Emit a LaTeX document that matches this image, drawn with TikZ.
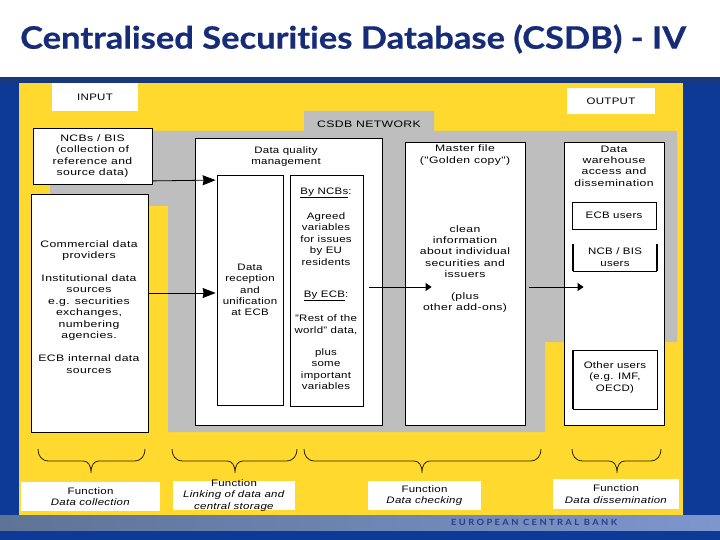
\documentclass[tikz,border=0pt]{standalone}
\usepackage{fontspec}
\setmainfont{Liberation Sans}[FakeStretch=1.22,LetterSpace=3]
\newfontfamily\widefont{Liberation Sans}[FakeStretch=1.3,LetterSpace=4]
\newfontfamily\titlefont{Lato}[FakeBold=0.6,FakeStretch=1.12,Ligatures=NoCommon]
\newfontfamily\bankfont{Lato}[LetterSpace=28,FakeStretch=1.1]
\usetikzlibrary{fit,arrows.meta,calc}
\definecolor{slideBlue}{RGB}{12,58,150}
\definecolor{stripBlue}{RGB}{24,58,125}
\definecolor{panelYellow}{RGB}{255,217,46}
\definecolor{netGrey}{RGB}{190,190,190}
\definecolor{titleNavy}{RGB}{22,44,120}
\definecolor{bankNavy}{RGB}{40,62,135}
\definecolor{bandLeft}{RGB}{95,115,150}
\definecolor{bandRight}{RGB}{125,150,205}
\tikzset{
  bx/.style={draw=black,fill=white,line width=0.8pt,inner sep=0pt},
  plainbx/.style={fill=white,inner sep=0pt},
  txt/.style={align=center,inner sep=0pt,font=\fontsize{9.4}{11.4}\selectfont},
  wtxt/.style={align=center,inner sep=0pt,font=\widefont\fontsize{9.4}{11.4}\selectfont},
  arr/.style={draw=black,line width=0.8pt,-{Stealth[length=13pt,width=10pt,inset=1pt]}},
  arrs/.style={draw=black,line width=0.8pt,-{Triangle[length=6pt,width=8pt]}},
  brc/.style={draw=black!85!panelYellow,line width=0.8pt},
  thk/.style={draw=black,line width=1.8pt}
}
\newcommand{\fnbrace}[3]{\draw[brc] (#1,449) .. controls (#1,455) and (#1+3,461) .. (#1+11,461) -- (#3-8,461) .. controls (#3-3,461) and (#3,465) .. (#3,473) .. controls (#3,465) and (#3+3,461) .. (#3+8,461) -- (#2-11,461) .. controls (#2-3,461) and (#2,455) .. (#2,449);}
\begin{document}
\begin{tikzpicture}[x=1pt,y=-1pt]
\useasboundingbox (0,0) rectangle (720,540);
% slide background
\fill[white] (0,0) rectangle (720,77);
\fill[slideBlue] (0,77) rectangle (720,540);
\fill[stripBlue] (0,77) rectangle (720,83);
\shade[left color=bandLeft,right color=bandRight] (0,515) rectangle (720,530);
\fill[panelYellow] (19,83) rectangle (683,515);
\fill[netGrey] (304,111) -- (434,111) -- (434,131) -- (677,131) -- (677,342) -- (545,342) -- (545,432) -- (168,432) -- (168,206) -- (50,206) -- (50,131) -- (304,131) -- cycle;
% title and footer
\node (title) [anchor=west,inner sep=0pt,text=titleNavy,font=\titlefont\bfseries\fontsize{30.8}{33}\selectfont] at (20,39) {Centralised Securities Database (CSDB) - IV};
\node (bank) [anchor=west,inner sep=0pt,text=bankNavy,font=\bankfont\bfseries\fontsize{8.5}{10}\selectfont] at (451,522) {EUROPEAN CENTRAL BANK};
% input / output
\node (input) [plainbx,fit={(52,83)(138,111)}] {};
\node at (input.center) [txt] {INPUT};
\node (output) [plainbx,fit={(567,88)(655,114)}] {};
\node at (output.center) [txt] {OUTPUT};
\node (net) [wtxt] at (369,124) {CSDB NETWORK};
% sources
\node (ncb) [bx,fit={(33,128)(152,184)}] {};
\node (ncbt) [wtxt] at (92.5,156) {NCBs / BIS\\(collection of\\reference and\\source data)};
\node (com) [bx,fit={(31,194)(148,432)}] {};
\node (comta) [wtxt] at (89,250.5) {Commercial data\\providers};
\node (comtb) [wtxt] at (89,307.5) {Institutional data\\sources\\e.g. securities\\exchanges,\\numbering\\agencies.};
\node (comtc) [wtxt] at (89,364) {ECB internal data\\sources};
% data quality
\node (dq) [bx,fit={(195,138)(382,425)}] {};
\node (dqt) [txt] at (286,156.5) {Data quality\\management};
\node (rec) [bx,fit={(217,175)(283,405)}] {};
\node (rect) [txt] at (250,290) {Data\\reception\\and\\unification\\at ECB};
\node (chk) [bx,fit={(290,175)(363,406)}] {};
\node (chka) [txt] at (326,193) {\underline{By NCBs}:};
\node (chkb) [txt] at (326,239) {Agreed\\variables\\for issues\\by EU\\residents};
\node (chkc) [txt] at (326,296) {\underline{By ECB}:};
\node (chkd) [txt] at (326,324.5) {"Rest of the\\world" data,};
\node (chke) [txt] at (326,369) {plus\\some\\important\\variables};
% master file
\node (mas) [bx,fit={(405,142)(525,425)}] {};
\node (masa) [wtxt] at (465,155) {Master file\\("Golden copy")};
\node (masb) [wtxt] at (465,251.5) {clean\\information\\about individual\\securities and\\issuers};
\node (masc) [wtxt] at (465,302.5) {(plus\\other add-ons)};
% warehouse
\node (war) [bx,fit={(564,142)(664,425)}] {};
\node (wart) [wtxt] at (614,166) {Data\\warehouse\\access and\\dissemination};
\node (ecbu) [bx,fit={(572,202)(656,229)}] {};
\node at (ecbu.center) [txt] {ECB users};
\node (nbu) [plainbx,fit={(573,244)(657,271)}] {};
\draw[thk] (nbu.north west) -- (nbu.south west);
\draw[thk] (nbu.north east) -- (nbu.south east);
\draw[draw=black,line width=1.2pt] (nbu.south west) -- (nbu.south east);
\node (nbut) [txt] at (615,257) {NCB / BIS\\users};
\node (oth) [bx,fit={(573,350)(657,409)}] {};
\draw[thk] (oth.north west) -- (oth.south west);
\node (otht) [txt] at (615,377.5) {Other users\\(e.g. IMF,\\OECD)};
% functions
\node (fa) [plainbx,fit={(21,482)(160,511)}] {};
\node (fat) [txt] at (fa.center) {Function\\\emph{Data collection}};
\node (fb) [plainbx,fit={(173,481)(295,510)}] {};
\node (fbt) [txt] at (fb.center) {Function\\\emph{Linking of data and}\\\emph{central storage}};
\node (fc) [plainbx,fit={(368,481)(481,510)}] {};
\node (fct) [txt] at (fc.center) {Function\\\emph{Data checking}};
\node (fd) [plainbx,fit={(553,479)(679,509)}] {};
\node (fdt) [txt] at (fd.center) {Function\\\emph{Data dissemination}};
% connectors
\draw[arr] ([yshift=3.5pt]ncb.south east) -- ([xshift=-1pt,yshift=-5.5pt]rec.north west);
\draw[arr] ([yshift=20pt]com.east) -- ([xshift=-1pt,yshift=-3pt]rec.west);
\coordinate (ma) at ([xshift=6pt,yshift=3.5pt]chk.east);
\draw[arrs] (ma) -- ([xshift=27pt,yshift=-3.5pt]mas.west);
\coordinate (mb) at ([xshift=4pt,yshift=-3.5pt]mas.east);
\draw[arrs] (mb) -- ([xshift=20pt,yshift=-3.5pt]war.west);
% braces
\fnbrace{38}{145}{91}
\fnbrace{172}{297}{235}
\fnbrace{304}{541}{422}
\fnbrace{572}{661}{617}
\end{tikzpicture}
\end{document}
